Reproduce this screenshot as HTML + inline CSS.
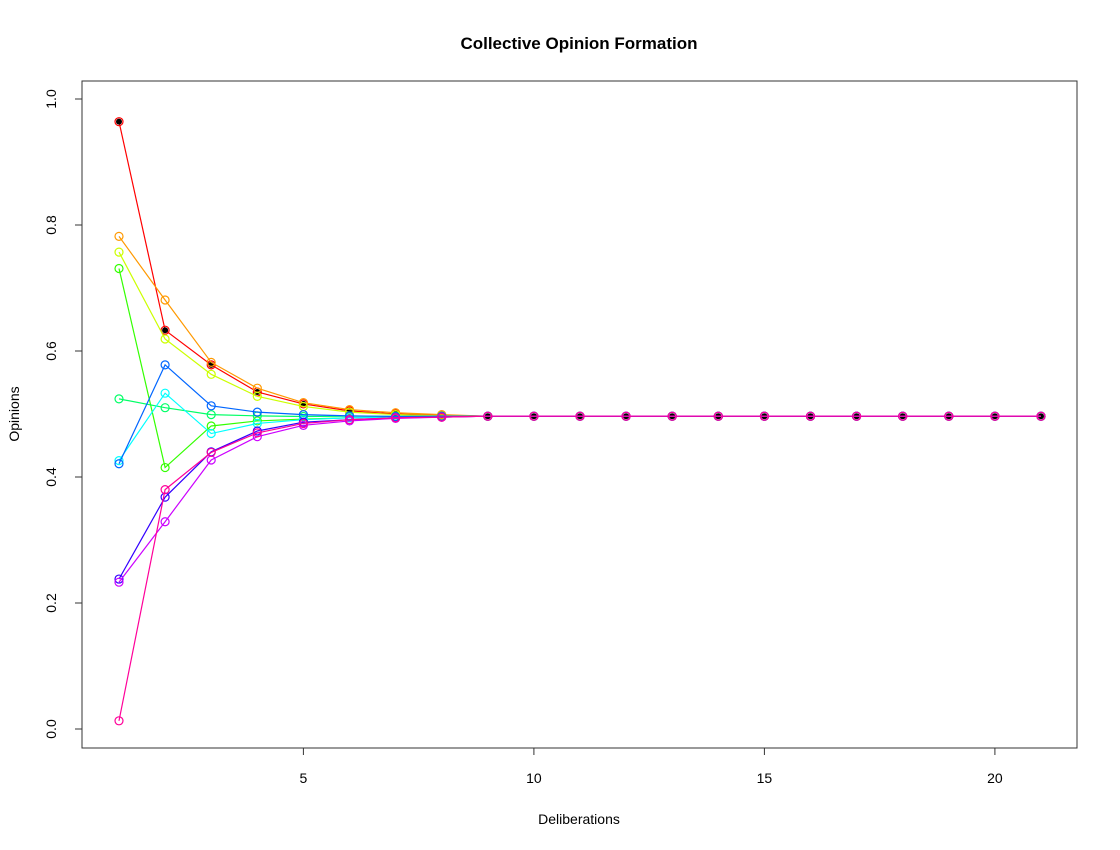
<!DOCTYPE html>
<html><head><meta charset="utf-8"><style>
html,body{margin:0;padding:0;background:#fff;}
svg{display:block;font-family:"Liberation Sans",Arial,sans-serif;}
</style></head><body>
<svg id="chart" width="1120" height="850" viewBox="0 0 1120 850">
<text x="579" y="49" text-anchor="middle" font-size="17" font-weight="bold">Collective Opinion Formation</text>
<rect x="82" y="81" width="995" height="667" fill="none" stroke="#333" stroke-width="1"/>
<g id="axes"></g>
<g id="series"></g>
<text x="579" y="824" text-anchor="middle" font-size="14">Deliberations</text>
<text transform="translate(19,414) rotate(-90)" text-anchor="middle" font-size="14">Opinions</text>
</svg>
<script>
const xTicks=[5,10,15,20];
const yTicks=[0,0.2,0.4,0.6,0.8,1.0];
const yTickLabels=["0.0","0.2","0.4","0.6","0.8","1.0"];
const colors=["#FF0000","#FF9900","#CCFF00","#33FF00","#00FF66","#00FFFF","#0066FF","#3300FF","#CC00FF","#FF0099"];
const F=0.4965;
const s1=[0.964,0.633,0.578,0.535,0.516,0.505,0.500,0.498,F,F,F,F,F,F,F,F,F,F,F,F,F];
const s2=[0.782,0.681,0.582,0.541,0.518,0.507,0.502,0.499,F,F,F,F,F,F,F,F,F,F,F,F,F];
const s3=[0.757,0.619,0.563,0.528,0.512,0.503,0.499,0.497,F,F,F,F,F,F,F,F,F,F,F,F,F];
const s4=[0.731,0.415,0.481,0.489,0.492,0.494,0.495,F,F,F,F,F,F,F,F,F,F,F,F,F,F];
const s5=[0.524,0.510,0.499,0.497,0.496,F,F,F,F,F,F,F,F,F,F,F,F,F,F,F,F];
const s6=[0.426,0.533,0.469,0.485,0.491,0.494,0.495,F,F,F,F,F,F,F,F,F,F,F,F,F,F];
const s7=[0.421,0.578,0.513,0.503,0.499,0.497,0.496,F,F,F,F,F,F,F,F,F,F,F,F,F,F];
const s8=[0.238,0.368,0.440,0.473,0.487,0.491,0.494,0.495,F,F,F,F,F,F,F,F,F,F,F,F,F];
const s9=[0.233,0.329,0.427,0.464,0.482,0.489,0.493,0.495,F,F,F,F,F,F,F,F,F,F,F,F,F];
const s10=[0.013,0.380,0.439,0.470,0.485,0.491,0.494,0.495,F,F,F,F,F,F,F,F,F,F,F,F,F];
const seriesList=[s1,s2,s3,s4,s5,s6,s7,s8,s9,s10];
const NS="http://www.w3.org/2000/svg";
function xs(i){return 119+(i-1)*46.1;}
function ys(v){return 729-630*v;}
function mk(t,a,p){const e=document.createElementNS(NS,t);for(const k in a)e.setAttribute(k,a[k]);p.appendChild(e);return e;}
const ax=document.getElementById('axes');
xTicks.forEach(t=>{
 const l=mk('line',{x1:xs(t),x2:xs(t),y1:748,y2:755,stroke:'#333'},ax);
 
 
 const tx=mk('text',{x:xs(t),y:783,'text-anchor':'middle','font-size':'14'},ax);
 
 
 tx.textContent=t;
});
yTicks.forEach((t,i)=>{
 const l=mk('line',{x1:75,x2:82,y1:ys(t),y2:ys(t),stroke:'#333'},ax);
 
 
 const tx=mk('text',{transform:`translate(56,${ys(t)}) rotate(-90)`,'text-anchor':'middle','font-size':'14'},ax);
 
 
 tx.textContent=yTickLabels[i];
});
const sg=document.getElementById('series');
seriesList.forEach((s,k)=>{
 const g=mk('g',{},sg);
 
 
 const pts=s.map((v,i)=>xs(i+1)+','+ys(v)).join(' ');
 const pl=mk('polyline',{points:pts,fill:'none',stroke:colors[k],'stroke-width':1.2},g);
 
 
 s.forEach((v,i)=>{
  const c=mk('circle',{cx:xs(i+1),cy:ys(v),r:4,fill:'none',stroke:colors[k],'stroke-width':1.2},g);
  
  
  if(k===0){
   const d=mk('circle',{cx:xs(i+1),cy:ys(v),r:3,fill:'#000'},g);
   
   
  }
 });
});
</script>
</body></html>
